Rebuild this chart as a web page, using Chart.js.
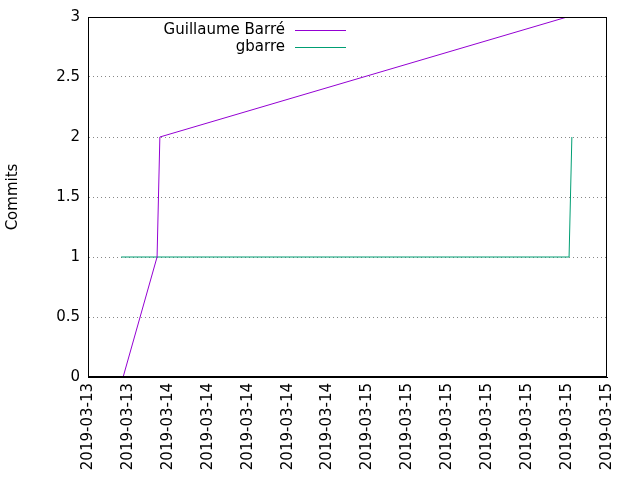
<!DOCTYPE html>
<html><head><script src="https://cdn.jsdelivr.net/npm/chart.js@4"></script>
<style>body{margin:0;background:#fff}</style></head>
<body><canvas id="c" width="640" height="480"></canvas>
<script>
const tickLabels=["2019-03-13","2019-03-13","2019-03-14","2019-03-14","2019-03-14","2019-03-14","2019-03-14","2019-03-15","2019-03-15","2019-03-15","2019-03-15","2019-03-15","2019-03-15","2019-03-15"];
const seriesNames=["Guillaume Barré","gbarre"];
const barreX=[0.88,1.73,1.80,12.0];
const barreY=[0,1,2,3];
const gbarreX=[0.83,12.05,12.12];
const gbarreY=[1,1,2];
const colors=["#9400d3","#009e73"];
const FF="DejaVu Sans, sans-serif";
const font={family:FF,size:15};
const legendPlugin={id:'lg',afterDraw(ch){const c=ch.ctx;c.save();c.font="15px "+FF;c.textAlign="right";c.textBaseline="middle";c.fillStyle="#000";
seriesNames.forEach((n,i)=>{const y=30+i*17;c.fillText(n,285,y);c.strokeStyle=colors[i];c.lineWidth=1;c.beginPath();c.moveTo(295,y+0.5);c.lineTo(346,y+0.5);c.stroke();});
const a=ch.chartArea;c.strokeStyle="#000";c.strokeRect(a.left+0.5,a.top+0.5,a.right-a.left-1,a.bottom-a.top-1);c.restore();}};
new Chart(document.getElementById('c'),{type:'line',
data:{datasets:[
{label:seriesNames[0],data:barreX.map((x,i)=>({x,y:barreY[i]})),borderColor:colors[0],borderWidth:1,pointRadius:0,tension:0},
{label:seriesNames[1],data:gbarreX.map((x,i)=>({x,y:gbarreY[i]})),borderColor:colors[1],borderWidth:1,pointRadius:0,tension:0}]},
options:{responsive:false,animation:false,layout:{padding:{top:17,right:33,left:0,bottom:0}},
plugins:{legend:{display:false},tooltip:{enabled:false}},
scales:{
x:{type:'linear',min:0,max:13,afterFit(s){s.height=103},afterBuildTicks(s){s.ticks=tickLabels.map((_,i)=>({value:i}))},
ticks:{autoSkip:false,maxRotation:90,minRotation:90,color:'#000',font,padding:2,callback:(v)=>tickLabels[v]},
grid:{display:false,drawTicks:true,tickLength:4,color:'#000'},border:{color:'#000'}},
y:{min:0,max:3,afterFit(s){s.width=88},ticks:{stepSize:0.5,color:'#000',font,padding:8,callback:(v)=>String(v)},
grid:{color:'#888',drawTicks:false},border:{color:'#000',dash:[1,3]},
title:{display:true,text:'Commits',color:'#000',font}}}},
plugins:[legendPlugin]});
</script></body></html>
